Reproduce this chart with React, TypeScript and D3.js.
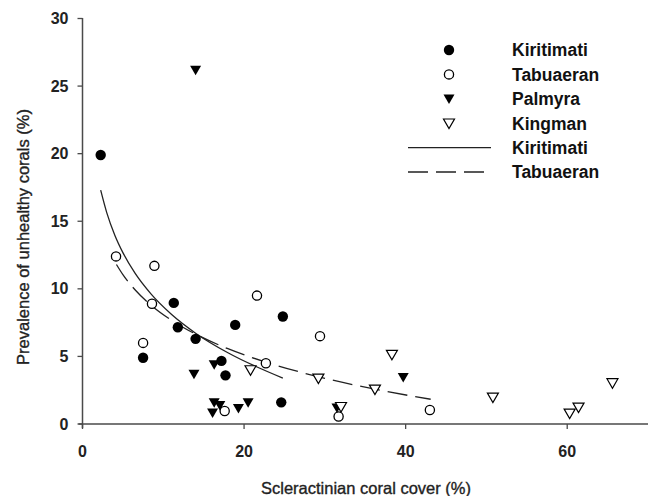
import React from "react";
import * as d3 from "d3";

// coral cover (%) vs prevalence of unhealthy corals (%)
const kiritimati: [number, number][] = [
  [2.25, 19.9], [11.3, 8.96], [11.8, 7.16], [14.0, 6.3], [18.9, 7.33],
  [24.8, 7.95], [7.5, 4.9], [17.2, 4.67], [17.7, 3.6], [24.6, 1.6],
];
const tabuaeran: [number, number][] = [
  [4.15, 12.4], [8.9, 11.7], [8.6, 8.9], [7.5, 6.0], [21.6, 9.5],
  [29.4, 6.5], [22.7, 4.5], [17.6, 0.96], [31.7, 0.55], [43.0, 1.04],
];
const palmyra: [number, number][] = [
  [14.0, 26.2], [13.8, 3.7], [16.3, 4.4], [16.3, 1.6], [17.0, 1.4],
  [16.1, 0.84], [19.3, 1.16], [20.5, 1.6], [31.5, 1.2], [39.7, 3.46],
];
const kingman: [number, number][] = [
  [20.8, 4.0], [29.2, 3.38], [32.0, 1.28], [38.3, 5.14], [36.2, 2.57],
  [50.8, 1.97], [60.3, 0.79], [61.4, 1.23], [65.6, 3.04],
];

// fitted curves
const kiritimatiFit: [number, number][] = [
  [2.25, 17.3], [3, 15.64], [4, 13.97], [5, 12.68], [6.5, 11.16],
  [8.5, 9.61], [11, 8.12], [14, 6.72], [18, 5.27], [24.8, 3.4],
];
const tabuaeranFit: [number, number][] = [
  [4.2, 11.8], [5, 11.05], [6.5, 9.93], [8.5, 8.78], [11, 7.68],
  [14, 6.65], [18, 5.57], [23, 4.52], [30, 3.38], [37, 2.48], [43.1, 1.83],
];

const xTicks = [0, 20, 40, 60];
const yTicks = [0, 5, 10, 15, 20, 25, 30];

const legendItems = [
  { label: "Kiritimati", kind: "dot" },
  { label: "Tabuaeran", kind: "circle" },
  { label: "Palmyra", kind: "tri" },
  { label: "Kingman", kind: "otri" },
  { label: "Kiritimati", kind: "solid" },
  { label: "Tabuaeran", kind: "dash" },
];

const W = 650;
const H = 496;
const margin = { top: 18.5, right: 2, bottom: 72, left: 82.5 };
const font = "'Liberation Sans', Arial, sans-serif";
const axisColor = "#4a4a4a";

const triDown = "M-5.5,-4.2L5.5,-4.2L0,5.3Z";

function Marker({ kind, x, y }: { kind: string; x: number; y: number }) {
  if (kind === "dot") return <circle cx={x} cy={y} r={5.2} fill="#000" />;
  if (kind === "circle")
    return <circle cx={x} cy={y} r={4.6} fill="#fff" stroke="#000" strokeWidth={1.3} />;
  if (kind === "tri")
    return <path d={triDown} transform={`translate(${x},${y})`} fill="#000" />;
  return (
    <path d={triDown} transform={`translate(${x},${y})`} fill="#fff" stroke="#000" strokeWidth={1.2} />
  );
}

export default function App() {
  const x = d3.scaleLinear().domain([0, 70]).range([margin.left, W - margin.right]);
  const y = d3.scaleLinear().domain([0, 30]).range([H - margin.bottom, margin.top]);

  const line = d3
    .line<[number, number]>()
    .x((d) => x(d[0]))
    .y((d) => y(d[1]))
    .curve(d3.curveMonotoneX);

  const series = [
    { data: kiritimati, kind: "dot" },
    { data: tabuaeran, kind: "circle" },
    { data: palmyra, kind: "tri" },
    { data: kingman, kind: "otri" },
  ];

  const x0 = x(0);
  const y0 = y(0);

  return (
    <svg
      width={W}
      height={H}
      style={{ position: "absolute", left: 0, top: 0, background: "#fff" }}
      fontFamily={font}
    >
      {/* axes */}
      <line x1={x0} x2={x0} y1={y(30) - 0.5} y2={y0 + 4} stroke={axisColor} strokeWidth={1.5} />
      <line x1={x0 - 4} x2={W - margin.right} y1={y0} y2={y0} stroke={axisColor} strokeWidth={1.5} />
      {yTicks.map((t) => (
        <g key={"y" + t}>
          <line x1={x0 - 5} x2={x0} y1={y(t)} y2={y(t)} stroke={axisColor} strokeWidth={1.3} />
          <text x={x0 - 14} y={y(t)} dy="0.35em" textAnchor="end" fontSize={16} fontWeight="bold" fill="#222">
            {t}
          </text>
        </g>
      ))}
      {xTicks.map((t) => (
        <g key={"x" + t}>
          <line x1={x(t)} x2={x(t)} y1={y0} y2={y0 + 5} stroke={axisColor} strokeWidth={1.3} />
          <text x={x(t)} y={y0 + 33} textAnchor="middle" fontSize={16} fontWeight="bold" fill="#222">
            {t}
          </text>
        </g>
      ))}
      <text x={366} y={494} textAnchor="middle" fontSize={16.5} fill="#222" stroke="#222" strokeWidth={0.35}>
        Scleractinian coral cover (%)
      </text>
      <text
        transform={`translate(29,${237}) rotate(-90)`}
        textAnchor="middle"
        fontSize={16.5}
        fill="#222"
        stroke="#222"
        strokeWidth={0.35}
      >
        Prevalence of unhealthy corals (%)
      </text>

      {/* fitted curves */}
      <path d={line(kiritimatiFit) ?? ""} fill="none" stroke="#222" strokeWidth={1.3} />
      <path
        d={line(tabuaeranFit) ?? ""}
        fill="none"
        stroke="#222"
        strokeWidth={1.3}
        strokeDasharray="20 8"
      />

      {/* points */}
      {series.map((s) =>
        s.data.map((d, i) => <Marker key={s.kind + i} kind={s.kind} x={x(d[0])} y={y(d[1])} />)
      )}

      {/* legend */}
      {legendItems.map((item, i) => {
        const ly = 50 + i * 24.4;
        return (
          <g key={"lg" + i}>
            {item.kind === "solid" ? (
              <line x1={408} x2={491} y1={ly} y2={ly} stroke="#222" strokeWidth={1.3} />
            ) : item.kind === "dash" ? (
              <line x1={408} x2={484} y1={ly} y2={ly} stroke="#222" strokeWidth={1.3} strokeDasharray="20 8" />
            ) : (
              <Marker kind={item.kind} x={449} y={ly} />
            )}
            <text x={512} y={ly} dy="0.36em" fontSize={17.5} fontWeight="bold" fill="#111">
              {item.label}
            </text>
          </g>
        );
      })}
    </svg>
  );
}
